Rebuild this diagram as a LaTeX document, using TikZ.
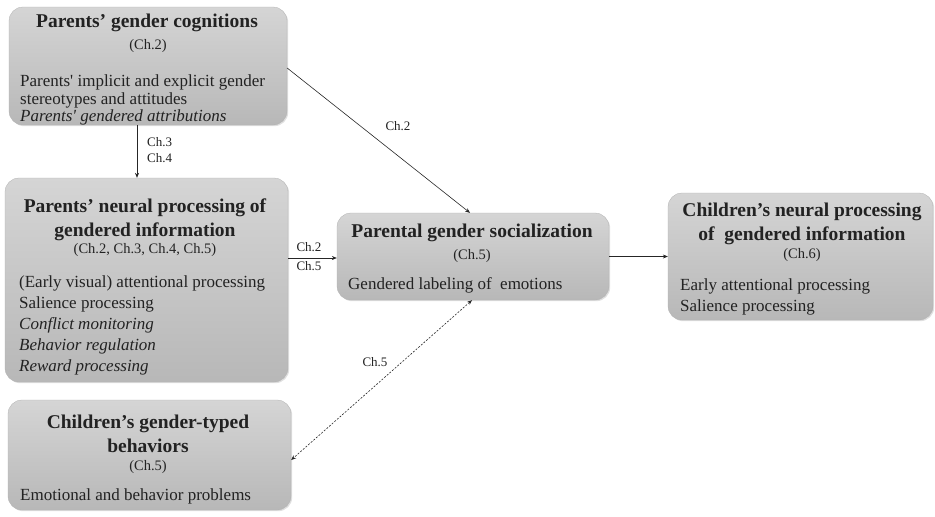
\documentclass[tikz,border=0pt]{standalone}
\usepackage{fontspec}
\setmainfont{Liberation Serif}
\usetikzlibrary{shadows,arrows.meta}
\definecolor{txt}{HTML}{222222}
\newcommand{\sq}{\textquotesingle}
\tikzset{
  box/.style={rounded corners=14pt, draw=gray!60, line width=0.3pt,
    top color=gray!33, bottom color=gray!56,
    drop shadow={opacity=0.25, shadow xshift=1.2pt, shadow yshift=-1.2pt}},
  ttl/.style={font=\fontsize{19.5}{22}\selectfont\bfseries, text=txt, anchor=base, inner sep=0pt},
  chp/.style={font=\fontsize{14.5}{16}\selectfont, text=txt, anchor=base, inner sep=0pt},
  bod/.style={font=\fontsize{17}{20}\selectfont, text=txt, anchor=base west, inner sep=0pt},
  lbl/.style={font=\fontsize{13}{15}\selectfont, text=txt, inner sep=0pt},
  arr/.style={-{Stealth[length=5pt,width=4pt]}, line width=0.6pt, draw=black!85},
  darr/.style={{Stealth[length=5pt,width=4pt]}-{Stealth[length=5pt,width=4pt]}, line width=0.6pt, draw=black!85, dash pattern=on 2pt off 1.5pt},
}
\begin{document}
\begin{tikzpicture}[x=1pt,y=-1pt]
\useasboundingbox (0,0) rectangle (935,517);
% boxes
\node[box, minimum width=278pt, minimum height=118pt] (b1) at (148,66) {};
\node[box, minimum width=283pt, minimum height=204pt] (b2) at (146.5,280) {};
\node[box, minimum width=283pt, minimum height=110pt] (b3) at (149.5,455) {};
\node[box, minimum width=272pt, minimum height=87pt] (b4) at (473,256.5) {};
\node[box, minimum width=265pt, minimum height=127pt] (b5) at (800.5,256.5) {};
% box 1
\node[ttl] (t1) at (147,27) {Parents’ gender cognitions};
\node[chp] (c1) at (148,49) {(Ch.2)};
\node[bod] (p1a) at (20,86) {Parents\sq{} implicit and explicit gender};
\node[bod] (p1b) at (20,104) {stereotypes and attitudes};
\node[bod] (p1c) at (20,121) {\itshape Parents\sq{} gendered attributions};
% box 2
\node[ttl] (t2a) at (145,212) {Parents’ neural processing of};
\node[ttl] (t2b) at (145,236) {gendered information};
\node[chp] (c2) at (145,253) {(Ch.2, Ch.3, Ch.4, Ch.5)};
\node[bod] (p2a) at (19,287) {(Early visual) attentional processing};
\node[bod] (p2b) at (19,308) {Salience processing};
\node[bod] (p2c) at (19,329) {\itshape Conflict monitoring};
\node[bod] (p2d) at (19,350) {\itshape Behavior regulation};
\node[bod] (p2e) at (19,371) {\itshape Reward processing};
% box 3
\node[ttl] (t3a) at (148,428) {Children’s gender-typed};
\node[ttl] (t3b) at (148,452) {behaviors};
\node[chp] (c3) at (148,470) {(Ch.5)};
\node[bod] (p3a) at (20,500) {Emotional and behavior problems};
% box 4
\node[ttl] (t4) at (472,237) {Parental gender socialization};
\node[chp] (c4) at (472,259) {(Ch.5)};
\node[bod] (p4a) at (348,289) {Gendered labeling of\ \ emotions};
% box 5
\node[ttl] (t5a) at (802,216) {Children’s neural processing};
\node[ttl] (t5b) at (802,240) {of\ \ gendered information};
\node[chp] (c5) at (802,258) {(Ch.6)};
\node[bod] (p5a) at (680,290) {Early attentional processing};
\node[bod] (p5b) at (680,311) {Salience processing};
% connectors
\draw[arr] ([xshift=-11pt]b1.south) -- ([xshift=-9.5pt]b2.north);
\node[lbl, anchor=base west] (l1) at (147,146) {Ch.3};
\node[lbl, anchor=base west] (l2) at (147,162) {Ch.4};
\draw[arr] ([yshift=-2pt]b1.east) -- ([xshift=-3pt]b4.north);
\node[lbl, anchor=base] (l3) at (398,130) {Ch.2};
\draw[arr] ([yshift=22pt]b2.east) -- ([yshift=-1.5pt]b4.west);
\node[lbl, anchor=base] (l4) at (309,251) {Ch.2};
\node[lbl, anchor=base] (l5) at (309,270) {Ch.5};
\draw[arr] (b4.east) -- (b5.west);
\draw[darr] ([xshift=-1pt]b4.south) -- ([yshift=-5pt]b3.east);
\node[lbl, anchor=base] (l6) at (375,366) {Ch.5};
\end{tikzpicture}
\end{document}
